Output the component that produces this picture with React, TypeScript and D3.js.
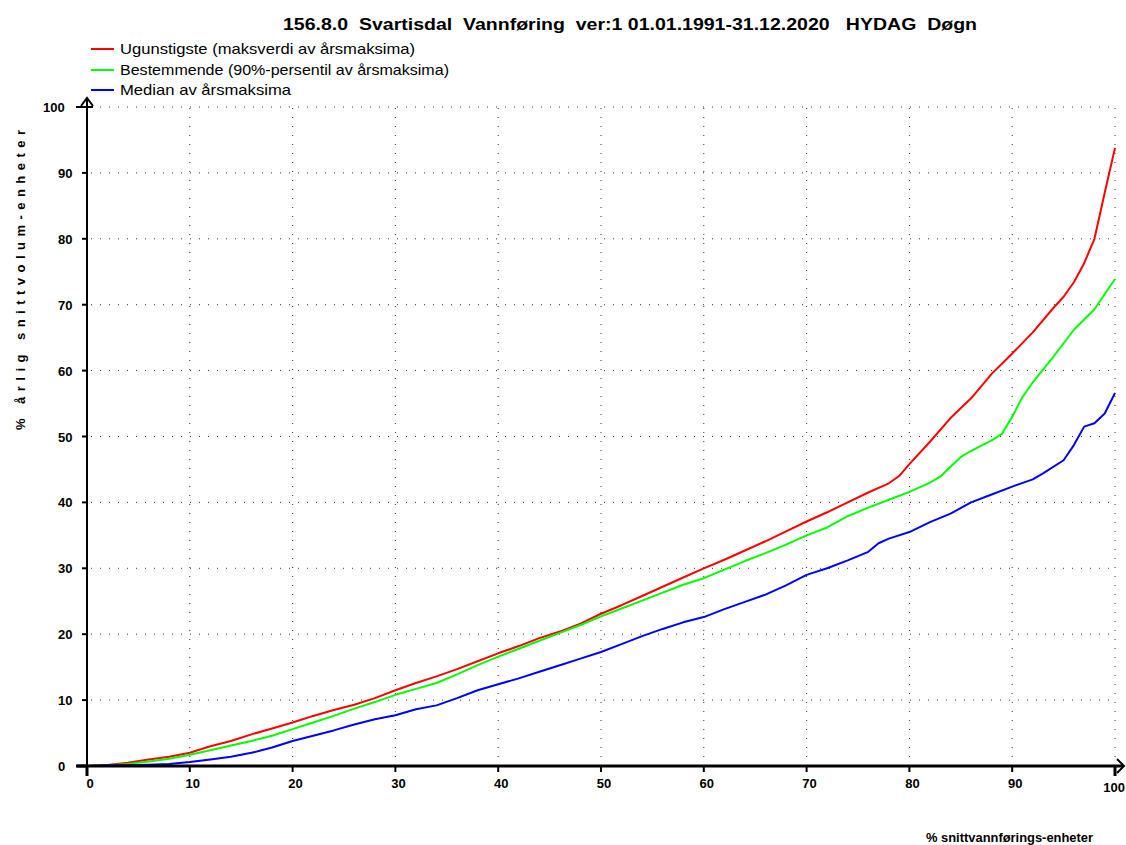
import React from "react";
import * as d3 from "d3";

const title = "156.8.0  Svartisdal  Vannføring  ver:1 01.01.1991-31.12.2020   HYDAG  Døgn";
const xTitle = "% snittvannførings-enheter";
const yTitle = "% årlig snittvolum-enheter";
const seriesNames = [
  "Ugunstigste (maksverdi av årsmaksima)",
  "Bestemmende (90%-persentil av årsmaksima)",
  "Median av årsmaksima",
];
const seriesColors = ["#ff0000", "#00ff00", "#0000ff"];
const xTicks = [0, 10, 20, 30, 40, 50, 60, 70, 80, 90, 100];
const yTicks = [0, 10, 20, 30, 40, 50, 60, 70, 80, 90, 100];

const redX = [0, 2, 4, 6, 8, 10, 12, 14, 16, 18, 20, 22, 24, 26, 28, 30, 32, 34, 36, 38, 40, 42, 44, 46, 48, 50, 52, 54, 56, 58, 60, 62, 64, 66, 68, 70, 72, 74, 76, 78, 79, 80, 82, 84, 86, 88, 90, 92, 94, 95, 96, 97, 98, 99, 100];
const redY = [0, 0.15, 0.5, 1.0, 1.4, 2.0, 3.0, 3.8, 4.8, 5.7, 6.6, 7.6, 8.5, 9.3, 10.3, 11.5, 12.6, 13.6, 14.7, 15.9, 17.1, 18.2, 19.4, 20.4, 21.6, 23.1, 24.4, 25.8, 27.2, 28.6, 30.0, 31.3, 32.7, 34.1, 35.6, 37.1, 38.5, 40.0, 41.5, 42.9, 44.0, 45.8, 49.2, 52.8, 55.8, 59.5, 62.6, 65.8, 69.5, 71.2, 73.4, 76.3, 80.0, 87.0, 93.8];

const greenX = [0, 2, 4, 6, 8, 10, 12, 14, 16, 18, 20, 22, 24, 26, 28, 30, 32, 34, 36, 38, 40, 42, 44, 46, 48, 50, 52, 54, 56, 58, 60, 62, 64, 66, 68, 70, 72, 74, 76, 78, 80, 82, 83, 84, 85, 86, 87, 88, 89, 90, 91, 92, 94, 96, 98, 100];
const greenY = [0, 0.1, 0.3, 0.7, 1.1, 1.7, 2.4, 3.1, 3.8, 4.6, 5.6, 6.6, 7.6, 8.7, 9.7, 10.8, 11.7, 12.6, 13.9, 15.3, 16.6, 17.8, 19.0, 20.2, 21.4, 22.7, 23.9, 25.1, 26.3, 27.5, 28.5, 29.8, 31.1, 32.3, 33.6, 35.0, 36.2, 37.9, 39.2, 40.4, 41.6, 43.0, 43.9, 45.4, 46.9, 47.8, 48.6, 49.4, 50.4, 53.0, 56.0, 58.2, 62.1, 66.2, 69.3, 73.9];

const blueX = [0, 2, 4, 6, 8, 10, 12, 14, 16, 18, 20, 22, 24, 26, 28, 30, 32, 34, 36, 38, 40, 42, 44, 46, 48, 50, 52, 54, 56, 58, 60, 62, 64, 66, 68, 70, 72, 74, 76, 77, 78, 80, 82, 84, 86, 88, 90, 92, 93, 95, 96, 97, 98, 99, 100];
const blueY = [0, 0.1, 0.1, 0.2, 0.3, 0.6, 1.0, 1.4, 2.0, 2.8, 3.8, 4.6, 5.4, 6.3, 7.1, 7.7, 8.6, 9.2, 10.3, 11.5, 12.4, 13.3, 14.3, 15.3, 16.3, 17.3, 18.5, 19.7, 20.8, 21.8, 22.6, 23.8, 24.9, 26.0, 27.4, 29.0, 30.0, 31.2, 32.5, 33.8, 34.5, 35.5, 37.0, 38.3, 40.0, 41.2, 42.4, 43.5, 44.4, 46.4, 48.7, 51.5, 52.0, 53.5, 56.6];

const seriesX = [redX, greenX, blueX];
const seriesY = [redY, greenY, blueY];

const W = 1126;
const H = 845;
const font = "'Liberation Sans', Arial, Helvetica, sans-serif";

export default function App() {
  const x = d3.scaleLinear().domain([0, 100]).range([87, 1115]);
  const y = d3.scaleLinear().domain([0, 100]).range([766, 107]);
  const line = d3
    .line<[number, number]>()
    .x((d) => x(d[0]))
    .y((d) => y(d[1]))
    .curve(d3.curveLinear);

  const x0 = x(0);
  const y0 = y(0);
  const legendWidths = [295, 329, 171];

  return (
    <svg
      width={W}
      height={H}
      style={{ position: "absolute", left: 0, top: 0, background: "#fff" }}
      fontFamily={font}
    >
      <rect x={0} y={0} width={W} height={H} fill="#fff" />
      {/* title */}
      <text
        x={283}
        y={30}
        fontSize={17}
        fontWeight="bold"
        style={{ whiteSpace: "pre" }}
        textLength={694}
        lengthAdjust="spacingAndGlyphs"
      >
        {title}
      </text>

      {/* legend */}
      {seriesNames.map((n, i) => {
        const ly = [49, 70, 90][i];
        return (
          <g key={n}>
            <line x1={91} x2={114} y1={ly} y2={ly} stroke={seriesColors[i]} strokeWidth={2} />
            <text
              x={120}
              y={ly + 5}
              fontSize={15}
              textLength={legendWidths[i]}
              lengthAdjust="spacingAndGlyphs"
            >
              {n}
            </text>
          </g>
        );
      })}

      {/* grid */}
      {xTicks
        .filter((t) => t > 0)
        .map((t) => (
          <line
            key={"gx" + t}
            x1={x(t)}
            x2={x(t)}
            y1={y0}
            y2={y(100)}
            stroke="#333"
            strokeWidth={1}
            strokeDasharray="1,8"
          />
        ))}
      {yTicks
        .filter((t) => t > 0)
        .map((t) => (
          <line
            key={"gy" + t}
            x1={x0 + 4}
            x2={x(100)}
            y1={y(t)}
            y2={y(t)}
            stroke="#333"
            strokeWidth={1}
            strokeDasharray="1,8"
          />
        ))}

      {/* series */}
      {seriesX.map((xs, i) => (
        <path
          key={"s" + i}
          d={line(xs.map((v, j) => [v, seriesY[i][j]] as [number, number])) || ""}
          fill="none"
          stroke={seriesColors[i]}
          strokeWidth={2}
          strokeLinejoin="round"
        />
      ))}

      {/* axes */}
      <line x1={x0} x2={x0} y1={776} y2={98} stroke="#000" strokeWidth={2} />
      <path d={`M${x0 - 6},${106} L${x0},${98} L${x0 + 6},${106}`} fill="none" stroke="#000" strokeWidth={2} />
      <line x1={77} x2={1123} y1={y0} y2={y0} stroke="#000" strokeWidth={3} />
      <path d={`M${1117},${y0 - 7} L${1124},${y0} L${1117},${y0 + 7}`} fill="none" stroke="#000" strokeWidth={2} />

      {/* y ticks */}
      {yTicks.map((t) => (
        <g key={"yt" + t}>
          <line
            x1={t === 0 || t === 100 ? 76 : 82}
            x2={t === 100 ? 93 : x0}
            y1={y(t)}
            y2={y(t)}
            stroke="#000"
            strokeWidth={t === 0 ? 3 : 2}
          />
          <text
            x={t === 100 ? 43 : 58}
            y={y(t) + 5}
            fontSize={13}
            fontWeight="bold"
          >
            {t}
          </text>
        </g>
      ))}

      {/* x ticks */}
      {xTicks.map((t) => (
        <g key={"xt" + t}>
          <line x1={x(t)} x2={x(t)} y1={y0} y2={t === 0 || t === 100 ? 776 : 772} stroke="#000" strokeWidth={t === 0 || t === 100 ? 3 : 2} />
          <text
            x={t === 100 ? W - 1 : x(t) + 3}
            y={t === 100 ? 792 : 788}
            fontSize={13}
            fontWeight="bold"
            textAnchor={t === 100 ? "end" : "middle"}
          >
            {t}
          </text>
        </g>
      ))}

      {/* axis titles */}
      <text
        x={926}
        y={842}
        fontSize={12}
        fontWeight="bold"
        textLength={167}
        lengthAdjust="spacingAndGlyphs"
      >
        {xTitle}
      </text>
      <text
        transform={`translate(25,430) rotate(-90)`}
        x={0}
        y={0}
        fontSize={13}
        fontWeight="bold"
        textLength={300}
        lengthAdjust="spacing"
      >
        {yTitle}
      </text>
    </svg>
  );
}
